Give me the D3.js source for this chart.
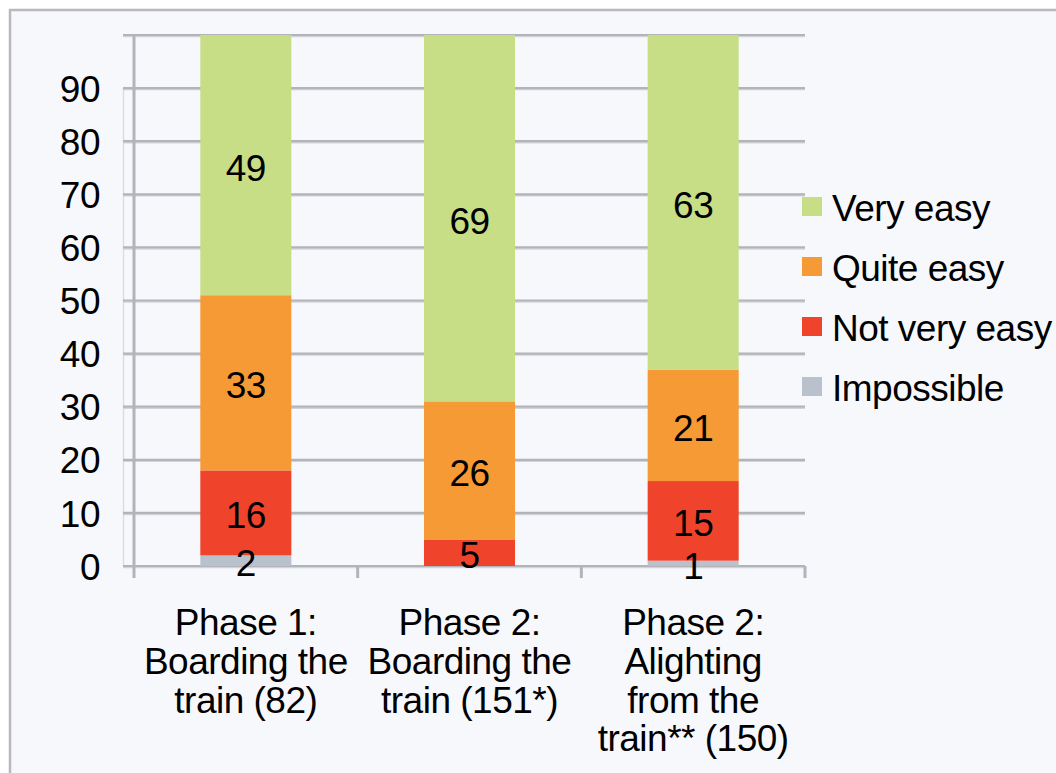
<!DOCTYPE html>
<html>
<head>
<meta charset="utf-8">
<script src="https://cdn.jsdelivr.net/npm/d3@7"></script>
<style>
  html, body { margin: 0; padding: 0; background: #ffffff; }
  svg { display: block; font-family: "Liberation Sans", Arial, sans-serif; letter-spacing: -0.5px; }
</style>
</head>
<body>
<svg id="chart" width="1056" height="773"></svg>
<script>
// Ease of boarding / alighting, percentage of respondents
const categories = [
  ["Phase 1:", "Boarding the", "train (82)"],
  ["Phase 2:", "Boarding the", "train (151*)"],
  ["Phase 2:", "Alighting", "from the", "train** (150)"]
];
const seriesNames = ["Impossible", "Not very easy", "Quite easy", "Very easy"];
const impossible  = [2, 0, 1];
const notVeryEasy = [16, 5, 15];
const quiteEasy   = [33, 26, 21];
const veryEasy    = [49, 69, 63];
const yTicks = [0, 10, 20, 30, 40, 50, 60, 70, 80, 90, 100];
const yTickLabels = ["0", "10", "20", "30", "40", "50", "60", "70", "80", "90", ""];

const colors = {
  "Impossible": "#b9c1cc",
  "Not very easy": "#ef432b",
  "Quite easy": "#f59a35",
  "Very easy": "#c7dd86"
};

const FONT = 37;
const svg = d3.select("#chart");

// chart frame
svg.append("rect")
  .attr("x", 10).attr("y", 10)
  .attr("width", 1100).attr("height", 800)
  .attr("fill", "#f7f8fc")
  .attr("stroke", "#b8b8bf").attr("stroke-width", 2.5);

const plotLeft = 134, plotRight = 805, plotBottom = 566, plotTop = 35;

const y = d3.scaleLinear().domain([0, 100]).range([plotBottom, plotTop]);
const x = d3.scaleBand()
  .domain(d3.range(categories.length))
  .range([plotLeft, plotRight])
  .paddingInner(0.593).paddingOuter(0.2965);

// back-wall edge
svg.append("line")
  .attr("x1", plotLeft - 10.5).attr("x2", plotLeft - 10.5)
  .attr("y1", y(90)).attr("y2", plotBottom)
  .attr("stroke", "#dcdde3").attr("stroke-width", 1.5);

// horizontal gridlines with a soft lower edge
const grid = svg.append("g");
yTicks.forEach(t => {
  grid.append("line")
    .attr("x1", plotLeft - 11).attr("x2", plotRight)
    .attr("y1", y(t) + 1.5).attr("y2", y(t) + 1.5)
    .attr("stroke", "#d3d4da").attr("stroke-width", 1.5);
  grid.append("line")
    .attr("x1", plotLeft - 11).attr("x2", plotRight)
    .attr("y1", y(t)).attr("y2", y(t))
    .attr("stroke", "#b3b3ba").attr("stroke-width", 2.2);
});

// y axis line
svg.append("line")
  .attr("x1", plotLeft).attr("x2", plotLeft)
  .attr("y1", plotTop - 1).attr("y2", plotBottom + 12)
  .attr("stroke", "#b3b3ba").attr("stroke-width", 3);

// x axis category ticks
const xTicks = d3.range(categories.length + 1).map(i => plotLeft + i * x.step());
xTicks.forEach((tx, i) => {
  if (i === 0) return;
  svg.append("line")
    .attr("x1", tx).attr("x2", tx)
    .attr("y1", plotBottom).attr("y2", plotBottom + 12)
    .attr("stroke", "#b3b3ba").attr("stroke-width", 3);
});

// y tick labels
svg.append("g").selectAll("text")
  .data(yTicks.map((t, i) => ({ t, label: yTickLabels[i] })))
  .join("text")
  .attr("x", 100)
  .attr("y", d => y(d.t))
  .attr("dy", "0.37em")
  .attr("text-anchor", "end")
  .attr("font-size", FONT)
  .attr("fill", "#000")
  .text(d => d.label);

// stacked bars
const rows = categories.map((c, i) => ({
  index: i,
  "Impossible": impossible[i],
  "Not very easy": notVeryEasy[i],
  "Quite easy": quiteEasy[i],
  "Very easy": veryEasy[i]
}));
const stacked = d3.stack().keys(seriesNames)(rows);

const layers = svg.append("g").selectAll("g")
  .data(stacked)
  .join("g")
  .attr("fill", d => colors[d.key]);

layers.selectAll("rect")
  .data(d => d.filter(p => p[1] - p[0] > 0))
  .join("rect")
  .attr("x", d => x(d.data.index))
  .attr("width", x.bandwidth())
  .attr("y", d => y(d[1]))
  .attr("height", d => y(d[0]) - y(d[1]));

// value labels
const labelG = svg.append("g");
stacked.forEach(layer => {
  layer.forEach(p => {
    const v = p[1] - p[0];
    if (v <= 0) return;
    labelG.append("text")
      .attr("x", x(p.data.index) + x.bandwidth() / 2)
      .attr("y", y((p[0] + p[1]) / 2))
      .attr("dy", "0.42em")
      .attr("text-anchor", "middle")
      .attr("font-size", FONT)
      .attr("fill", "#000")
      .text(v);
  });
});

// category labels
const catG = svg.append("g");
categories.forEach((lines, i) => {
  const t = catG.append("text")
    .attr("x", x(i) + x.bandwidth() / 2)
    .attr("y", 635)
    .attr("text-anchor", "middle")
    .attr("font-size", FONT)
    .attr("fill", "#000");
  lines.forEach((ln, j) => {
    t.append("tspan")
      .attr("x", x(i) + x.bandwidth() / 2)
      .attr("dy", j === 0 ? 0 : 38.8)
      .text(ln);
  });
});

// legend
const legendOrder = ["Very easy", "Quite easy", "Not very easy", "Impossible"];
const legend = svg.append("g").selectAll("g")
  .data(legendOrder)
  .join("g")
  .attr("transform", (d, i) => `translate(802, ${207 + i * 60})`);
legend.append("rect")
  .attr("x", 0).attr("y", -10)
  .attr("width", 20).attr("height", 19)
  .attr("fill", d => colors[d]);
legend.append("text")
  .attr("x", 30).attr("y", 0)
  .attr("dy", "0.37em")
  .attr("font-size", FONT)
  .attr("fill", "#000")
  .text(d => d);
</script>
</body>
</html>
